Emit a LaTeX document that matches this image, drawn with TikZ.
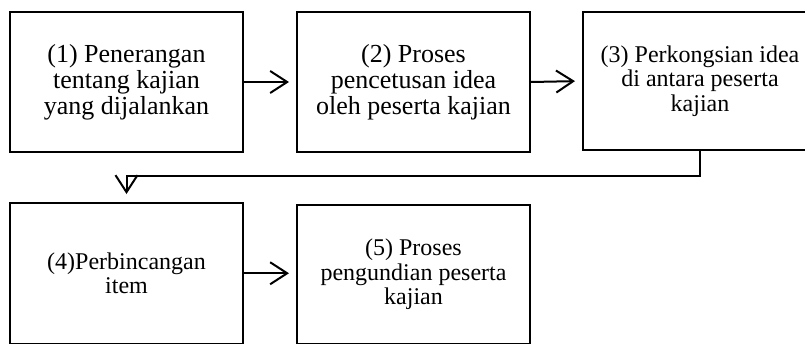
\documentclass[tikz,border=0pt]{standalone}
\usepackage{fontspec}
\setmainfont{Liberation Serif}
\usetikzlibrary{arrows.meta}
\tikzset{
  box/.style={draw=black, line width=2pt, fill=white, align=center, inner sep=0pt, minimum width=233pt},
  big/.style={font=\fontsize{26}{26}\selectfont},
  small/.style={font=\fontsize{24}{24.5}\selectfont},
  arr/.style={line width=2pt, -{Straight Barb[length=17pt,width=22pt]}},
}
\begin{document}
\begin{tikzpicture}[x=1pt,y=1pt]
\useasboundingbox (0,0) rectangle (805,-343);
\clip (0,0) rectangle (805,-343);
\node[box, big, minimum height=140pt] (b1) at (126.5,-82) {(1) Penerangan\\tentang kajian\\yang dijalankan};
\node[box, big, minimum height=140pt] (b2) at (413.5,-82) {(2) Proses\\pencetusan idea\\oleh peserta kajian};
\node[box, small, minimum height=138pt, minimum width=234pt] (b3) at (700,-81) {(3) Perkongsian idea\\di antara peserta\\kajian};
\node[box, small, minimum height=140.5pt] (b4) at (126.5,-273.25) {(4)Perbincangan\\item};
\node[box, small, minimum height=138.5pt] (b5) at (413.5,-274.25) {(5) Proses\\pengundian peserta\\kajian};
\draw[arr, shorten >=7pt] (b1.east) -- (b2.west);
\draw[arr, shorten >=7pt] (b2.east) -- (b3.west);
\draw[arr, shorten >=8pt] (b3.south) -- ++(0,-25) -| (b4.north);
\draw[arr, shorten >=7pt] (b4.east) -- (b4.east -| b5.west);
\end{tikzpicture}
\end{document}
